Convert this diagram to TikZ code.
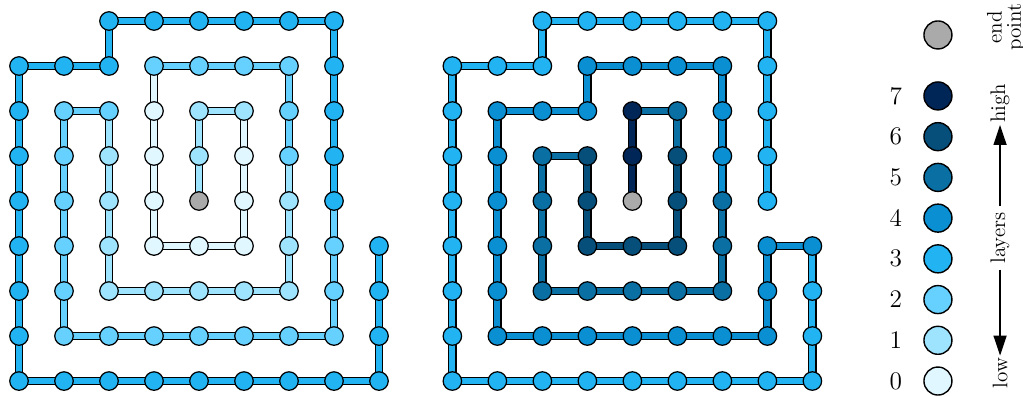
\documentclass[tikz,border=0pt]{standalone}
\usepackage{tikz}
\usetikzlibrary{arrows.meta, positioning, backgrounds}
\definecolor{lay0}{HTML}{E0F7FF}
\definecolor{lay1}{HTML}{9FE4FF}
\definecolor{lay2}{HTML}{66D1FF}
\definecolor{lay3}{HTML}{22B3F2}
\definecolor{lay4}{HTML}{0A8FD3}
\definecolor{lay5}{HTML}{0A6FA3}
\definecolor{lay6}{HTML}{064F7B}
\definecolor{lay7}{HTML}{002557}
\definecolor{lay8}{HTML}{AAAAAA}% end point
\tikzset{
  dot/.style={circle, draw=black, line width=0.7pt, minimum size=0.37cm, inner sep=0pt},
  keydot/.style={circle, draw=black, line width=0.8pt, minimum size=0.56cm, inner sep=0pt},
  wire/.style={draw=black, line width=5pt},
  wirecore/.style={line width=3.5pt},
  arrow/.style={-{Triangle[length=4mm,width=2.6mm]}, line width=0.8pt},
  tag/.style={rotate=90, inner sep=1pt}
}
% walks from the end point outwards: column/row/layer (8 = end point)
\newcommand{\leftwalk}{4/4/8, 4/5/1, 4/6/1, 5/6/1, 5/5/0, 5/4/0, 5/3/0, 4/3/0, 3/3/0,
  3/4/0, 3/5/0, 3/6/0, 3/7/2, 4/7/2, 5/7/2, 6/7/2, 6/6/2, 6/5/2, 6/4/1, 6/3/1, 6/2/1,
  5/2/1, 4/2/1, 3/2/1, 2/2/1, 2/3/1, 2/4/1, 2/5/1, 2/6/2, 1/6/2, 1/5/2, 1/4/2, 1/3/2,
  1/2/2, 1/1/2, 2/1/2, 3/1/2, 4/1/2, 5/1/2, 6/1/2, 7/1/2, 7/2/2, 7/3/2, 7/4/3, 7/5/3,
  7/6/3, 7/7/3, 7/8/3, 6/8/3, 5/8/3, 4/8/3, 3/8/3, 2/8/3, 2/7/3, 1/7/3, 0/7/3, 0/6/3,
  0/5/3, 0/4/3, 0/3/3, 0/2/3, 0/1/3, 0/0/3, 1/0/3, 2/0/3, 3/0/3, 4/0/3, 5/0/3, 6/0/3,
  7/0/3, 8/0/3, 8/1/3, 8/2/3, 8/3/3}
\newcommand{\rightwalk}{4/4/8, 4/5/7, 4/6/7, 5/6/5, 5/5/6, 5/4/6, 5/3/6, 4/3/6, 3/3/6,
  3/4/6, 3/5/6, 2/5/5, 2/4/5, 2/3/5, 2/2/5, 3/2/5, 4/2/5, 5/2/5, 6/2/5, 6/3/5, 6/4/5,
  6/5/4, 6/6/4, 6/7/4, 5/7/4, 4/7/4, 3/7/4, 3/6/4, 2/6/4, 1/6/4, 1/5/4, 1/4/4, 1/3/4,
  1/2/4, 1/1/4, 2/1/4, 3/1/4, 4/1/4, 5/1/4, 6/1/4, 7/1/4, 7/2/4, 7/3/4, 8/3/4, 8/2/3,
  8/1/3, 8/0/3, 7/0/3, 6/0/3, 5/0/3, 4/0/3, 3/0/3, 2/0/3, 1/0/3, 0/0/3, 0/1/3, 0/2/3,
  0/3/3, 0/4/3, 0/5/3, 0/6/3, 0/7/3, 1/7/3, 2/7/3, 2/8/3, 3/8/3, 4/8/3, 5/8/3, 6/8/3,
  7/8/3, 7/7/3, 7/6/3, 7/5/3, 7/4/3}
% #1 name prefix, #2 x shift, #3 walk
\newcommand{\drawwalk}[3]{
  \foreach \c/\r/\l [count=\i] in #3
    \node[dot, fill=lay\l] (#1\i) at (#2+\c,\r) {};
  \begin{scope}[on background layer]
    \foreach \c/\r/\l [count=\i, remember=\l as \pl (initially 8)] in #3 {
      \ifnum\i>1
        \pgfmathtruncatemacro\j{\i-1}
        \pgfmathtruncatemacro\e{min(\l,\pl)}
        \draw[wire] (#1\j.center) -- (#1\i.center);
        \draw[wirecore, draw=lay\e] (#1\j.center) -- (#1\i.center);
      \fi
    }
  \end{scope}
}

\begin{document}
\begin{tikzpicture}[x=0.9cm, y=0.9cm, font=\large]
  \useasboundingbox (-0.422,-0.333) rectangle (22.31,8.467);

  \drawwalk{L}{0}{\leftwalk}
  \drawwalk{R}{9.63}{\rightwalk}

  % key
  \node[keydot, fill=lay8] (keyend) at (20.42,7.69) {};
  \node[rotate=90, align=center] (endtext) at (21.93,7.86) {end\\[-3pt]point};
  \foreach \l in {0,...,7} {
    \node[keydot, fill=lay\l] (key\l) at (20.42,0.905*\l) {};
    \node[left=0.3cm of key\l, font=\Large] (num\l) {\l};
  }

  \node[rotate=90] (layers) at (21.8,3.18) {layers};
  \node[tag] (high) at (21.8,6.17) {high};
  \node[tag] (low) at (21.8,0.18) {low};
  \draw[arrow] (layers) -- (high);
  \draw[arrow] (layers) -- (low);
\end{tikzpicture}
\end{document}
